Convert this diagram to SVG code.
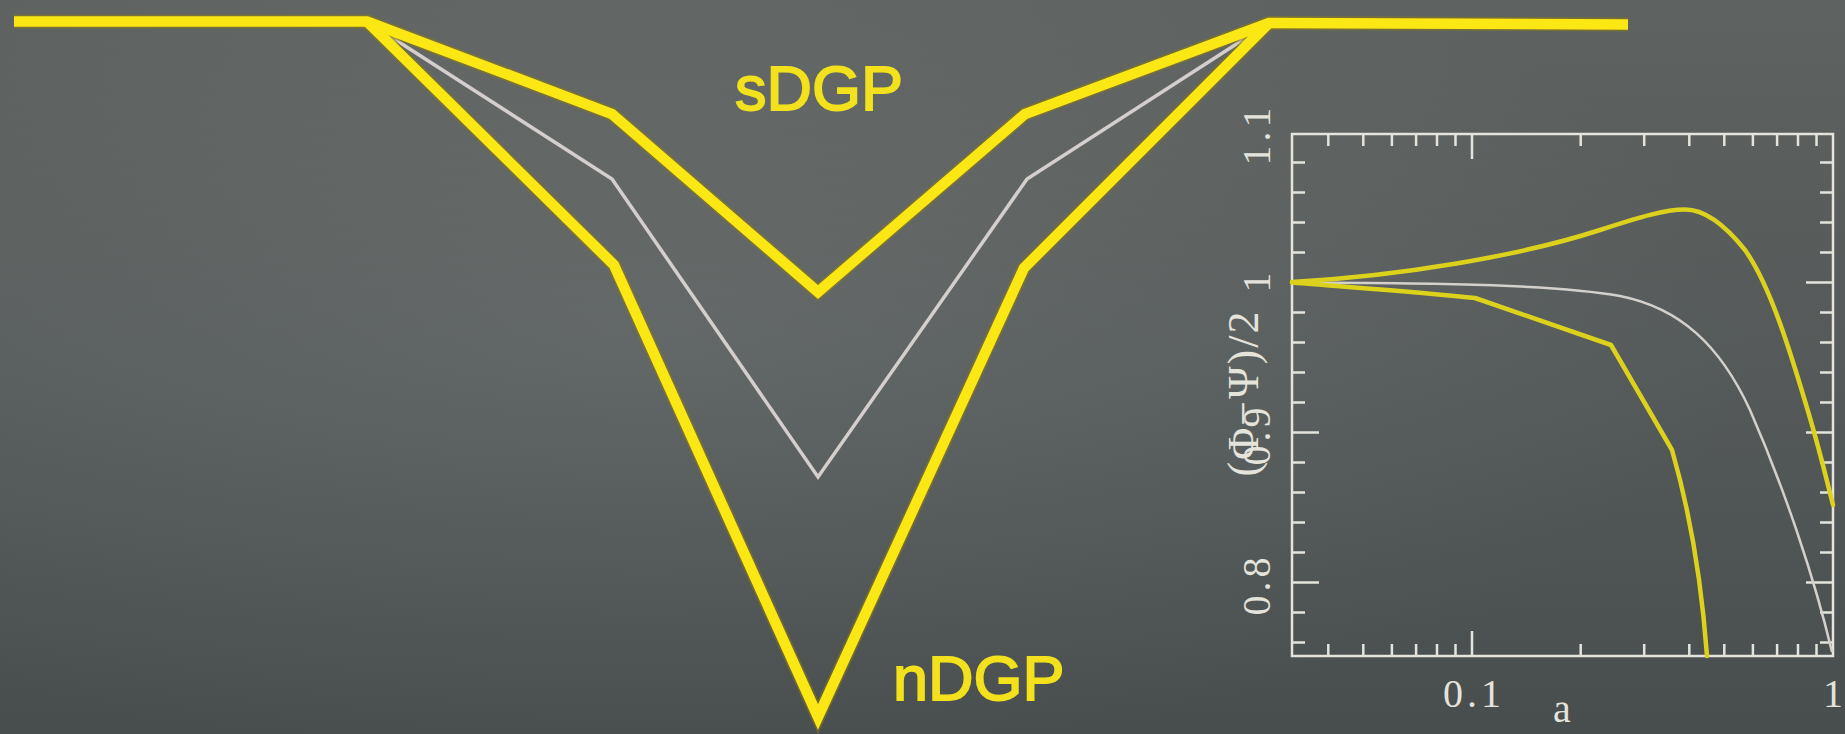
<svg xmlns="http://www.w3.org/2000/svg" width="1845" height="734" viewBox="0 0 1845 734">
  <defs>
    <linearGradient id="bg" x1="0" y1="0" x2="0" y2="1">
      <stop offset="0" stop-color="#646866"/>
      <stop offset="0.5" stop-color="#5a5f5f"/>
      <stop offset="1" stop-color="#4d5253"/>
    </linearGradient>
    <radialGradient id="glow" cx="0.35" cy="0.45" r="0.6">
      <stop offset="0" stop-color="#ffffff" stop-opacity="0.05"/>
      <stop offset="1" stop-color="#000000" stop-opacity="0.06"/>
    </radialGradient>
    <style>
      .halo { fill: none; stroke: #8c7c14; stroke-opacity: 0.55; stroke-width: 14; stroke-linejoin: miter; stroke-miterlimit: 10; }
      .yel { fill: none; stroke: #fbe714; stroke-width: 10.5; stroke-linejoin: miter; stroke-miterlimit: 10; }
      .wht { fill: none; stroke: #d4cecd; stroke-width: 3.5; stroke-linejoin: miter; }
      .lbl { font-family: "Liberation Sans", Arial, sans-serif; font-size: 63px; fill: #f2e11c; stroke: #f2e11c; stroke-width: 1.8; paint-order: stroke; }
      .axis { fill: none; stroke: #e4e3dc; stroke-width: 2.5; }
      .tick { fill: none; stroke: #e4e3dc; stroke-width: 2.5; }
      .num { font-family: "Liberation Serif", "Times New Roman", serif; font-size: 40px; fill: #e4e3dc; letter-spacing: 4px; }
      .num1 { font-family: "Liberation Serif", "Times New Roman", serif; font-size: 40px; fill: #e4e3dc; }
      .ylab { font-family: "Liberation Serif", "Times New Roman", serif; font-size: 44px; fill: #e4e3dc; letter-spacing: 2px; }
      .cy { fill: none; stroke: #dcd21c; stroke-width: 4.5; stroke-linejoin: round; stroke-linecap: round; }
      .cw { fill: none; stroke: #d4d0cc; stroke-width: 2.5; stroke-linejoin: round; }
    </style>
  </defs>

  <rect id="board" x="0" y="0" width="1845" height="734" fill="url(#bg)"/>
  <rect x="0" y="0" width="1845" height="734" fill="url(#glow)"/>

  <!-- V diagram -->
  <g id="connectors">
    <path id="gr-line" class="wht" d="M367,21.5 L612,179 L818,477 L1027,179 L1269,23"/>
    <g id="halos">
      <path class="halo" d="M14,21.5 L367,21.5 L612,114 L818,292 L1025,114 L1269,23 L1628,24.5"/>
      <path class="halo" d="M367,21.5 L614,265 L818,717 L1024,268 L1269,23"/>
    </g>
    <path id="sdgp-line" class="yel" d="M14,21.5 L367,21.5 L612,114 L818,292 L1025,114 L1269,23 L1628,24.5"/>
    <path id="ndgp-line" class="yel" d="M367,21.5 L614,265 L818,717 L1024,268 L1269,23"/>
  </g>

  <g id="label-sdgp">
    <text class="lbl" x="735" y="110">sDGP</text>
  </g>
  <g id="label-ndgp">
    <text class="lbl" x="893" y="700">nDGP</text>
  </g>

  <!-- Inset plot -->
  <g id="plot">
    <rect class="axis" x="1292" y="134" width="541" height="522"/>
    <g id="ticks" class="tick">
      <path d="M1292,162.5h13 M1292,192.5h13 M1292,222.5h13 M1292,252.5h13 M1292,282.5h27 M1292,312.5h13 M1292,342.5h13 M1292,372.5h13 M1292,402.5h13 M1292,432.5h27 M1292,462.5h13 M1292,492.5h13 M1292,522.5h13 M1292,552.5h13 M1292,582.5h27 M1292,612.5h13 M1292,642.5h13"/>
      <path d="M1833,162.5h-13 M1833,192.5h-13 M1833,222.5h-13 M1833,252.5h-13 M1833,282.5h-27 M1833,312.5h-13 M1833,342.5h-13 M1833,372.5h-13 M1833,402.5h-13 M1833,432.5h-27 M1833,462.5h-13 M1833,492.5h-13 M1833,522.5h-13 M1833,552.5h-13 M1833,582.5h-27 M1833,612.5h-13 M1833,642.5h-13"/>
      <path d="M1328.3,134v12 M1363.3,134v12 M1391.9,134v12 M1416.1,134v12 M1437,134v12 M1455.5,134v12 M1472,134v25 M1580.7,134v12 M1644.2,134v12 M1689.3,134v12 M1724.3,134v12 M1752.9,134v12 M1777.1,134v12 M1798,134v12 M1816.5,134v12"/>
      <path d="M1328.3,656v-12 M1363.3,656v-12 M1391.9,656v-12 M1416.1,656v-12 M1437,656v-12 M1455.5,656v-12 M1472,656v-25 M1580.7,656v-12 M1644.2,656v-12 M1689.3,656v-12 M1724.3,656v-12 M1752.9,656v-12 M1777.1,656v-12 M1798,656v-12 M1816.5,656v-12"/>
    </g>
    <g id="tick-labels">
      <text class="num" text-anchor="middle" transform="translate(1270,134.5) rotate(-90)">1.1</text>
      <text class="num1" text-anchor="middle" transform="translate(1270,282.5) rotate(-90)">1</text>
      <text class="num" text-anchor="middle" transform="translate(1270,434.5) rotate(-90)">0.9</text>
      <text class="num" text-anchor="middle" transform="translate(1270,584.5) rotate(-90)">0.8</text>
      <text class="num" text-anchor="middle" x="1474" y="707">0.1</text>
      <text class="num1" text-anchor="middle" x="1833" y="707">1</text>
    </g>
    <text id="ylabel" class="ylab" text-anchor="middle" transform="translate(1258,393) rotate(-90)">(Φ−Ψ)/2</text>
    <text id="xlabel" class="num1" text-anchor="middle" x="1562" y="722">a</text>

    <g id="curves">
      <path id="curve-gr" class="cw" d="M1292,282.5 C1450,283 1560,285 1620,296 C1680,308 1720,345 1750,410 C1785,490 1815,580 1832,652"/>
      <path id="curve-sdgp" class="cy" d="M1292,282 C1400,276 1520,256 1600,230 C1640,217 1665,209.5 1685,209.5 C1705,209.5 1725,225 1745,250 C1770,285 1790,350 1810,418 C1820,452 1828,485 1833,505"/>
      <path id="curve-ndgp" class="cy" d="M1292,282.5 C1360,288 1420,292 1475,298 L1611,345 L1672,450 C1685,495 1700,560 1707,656"/>
    </g>
  </g>
</svg>
